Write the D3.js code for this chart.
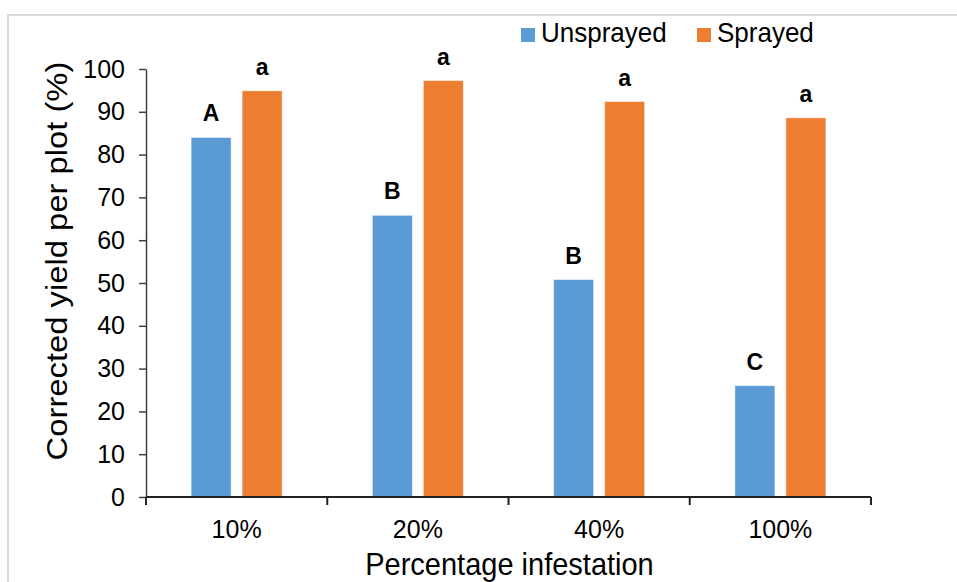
<!DOCTYPE html>
<html>
<head>
<meta charset="utf-8">
<script src="https://cdn.jsdelivr.net/npm/d3@7"></script>
<style>
  html, body { margin: 0; padding: 0; background: #fff; }
  svg { display: block; font-family: "Liberation Sans", Arial, sans-serif; }
</style>
</head>
<body>
<svg id="chart" width="957" height="582"></svg>
<script>
// ---- data ----
const categories = ["10%", "20%", "40%", "100%"];
const seriesNames = ["Unsprayed", "Sprayed"];
const unsprayed = [84.0, 65.8, 50.8, 26.0];
const sprayed = [94.9, 97.3, 92.4, 88.6];
const unsprayedLetters = ["A", "B", "B", "C"];
const sprayedLetters = ["a", "a", "a", "a"];
const yTicks = [0, 10, 20, 30, 40, 50, 60, 70, 80, 90, 100];
const colors = ["#5B9BD5", "#ED7D31"];

const svg = d3.select("#chart");
const W = 957, H = 582;

// outer frame
svg.append("rect")
  .attr("x", 8).attr("y", 15)
  .attr("width", W + 20).attr("height", H + 20)
  .attr("fill", "none").attr("stroke", "#d9d9d9").attr("stroke-width", 2);

const plot = { left: 146, right: 871, top: 69, bottom: 497 };

const x0 = d3.scaleBand().domain(categories).range([plot.left, plot.right]).paddingInner(0).paddingOuter(0);
const x1 = d3.scaleBand().domain(seriesNames).range([0, x0.bandwidth()]).paddingInner(0.216).paddingOuter(0.885);
const y = d3.scaleLinear().domain([0, 100]).range([plot.bottom, plot.top]);

const rows = categories.map((c, i) => ({
  cat: c,
  vals: [
    { s: seriesNames[0], v: unsprayed[i], l: unsprayedLetters[i], c: colors[0] },
    { s: seriesNames[1], v: sprayed[i], l: sprayedLetters[i], c: colors[1] }
  ]
}));

// bars
const g = svg.append("g");
const groups = g.selectAll("g.grp").data(rows).join("g")
  .attr("class", "grp")
  .attr("transform", d => `translate(${x0(d.cat)},0)`);

groups.selectAll("rect").data(d => d.vals).join("rect")
  .attr("x", d => x1(d.s))
  .attr("width", x1.bandwidth())
  .attr("y", d => y(d.v))
  .attr("height", d => y(0) - y(d.v))
  .attr("fill", d => d.c)
  .attr("stroke", "#ffffff").attr("stroke-opacity", 0.45).attr("stroke-width", 1);

groups.selectAll("text").data(d => d.vals).join("text")
  .attr("transform", d => `translate(${x1(d.s) + x1.bandwidth() / 2},${y(d.v) - 16}) scale(1,1.08)`)
  .attr("text-anchor", "middle")
  .attr("font-size", 23).attr("font-weight", "bold").attr("fill", "#000")
  .text(d => d.l);

// y axis
const yAxis = d3.axisLeft(y).tickValues(yTicks).tickSize(7).tickPadding(14).tickSizeOuter(0);
const ya = svg.append("g").attr("transform", `translate(${plot.left},0)`).call(yAxis);
ya.select(".domain").attr("stroke", "#404040").attr("stroke-width", 1.5);
ya.selectAll(".tick line").attr("stroke", "#404040").attr("stroke-width", 1.5);
ya.selectAll(".tick text").attr("font-size", 25).attr("fill", "#000")
  .attr("font-family", "Liberation Sans, Arial, sans-serif");

// x axis
const xa = svg.append("g").attr("transform", `translate(0,${plot.bottom})`);
xa.append("line").attr("x1", plot.left).attr("x2", plot.right)
  .attr("y1", 0).attr("y2", 0).attr("stroke", "#222").attr("stroke-width", 2);
const boundaries = categories.map(c => x0(c)).concat([x0(categories[categories.length - 1]) + x0.bandwidth()]);
xa.selectAll("line.tk").data(boundaries).join("line")
  .attr("class", "tk")
  .attr("x1", d => d).attr("x2", d => d)
  .attr("y1", 0).attr("y2", 8)
  .attr("stroke", "#222").attr("stroke-width", 2);
xa.selectAll("text").data(categories).join("text")
  .attr("x", d => x0(d) + x0.bandwidth() / 2)
  .attr("y", 41)
  .attr("text-anchor", "middle")
  .attr("font-size", 25).attr("fill", "#000")
  .text(d => d);

// axis titles
svg.append("text")
  .attr("transform", "translate(509.5,575) scale(1,1.08)")
  .attr("text-anchor", "middle")
  .attr("font-size", 29).attr("fill", "#000")
  .text("Percentage infestation");

svg.append("text")
  .attr("transform", "translate(67,261) rotate(-90) scale(1.13,1)")
  .attr("text-anchor", "middle")
  .attr("font-size", 29).attr("fill", "#000")
  .text("Corrected yield per plot (%)");

// legend
const legX = [521, 697];
const leg = svg.append("g");
seriesNames.forEach((s, i) => {
  leg.append("rect").attr("x", legX[i]).attr("y", 28).attr("width", 14).attr("height", 14).attr("fill", colors[i]);
  leg.append("text").attr("transform", `translate(${legX[i] + 20},42) scale(1,1.05)`)
    .attr("font-size", 26).attr("fill", "#000").text(s);
});
</script>
</body>
</html>
